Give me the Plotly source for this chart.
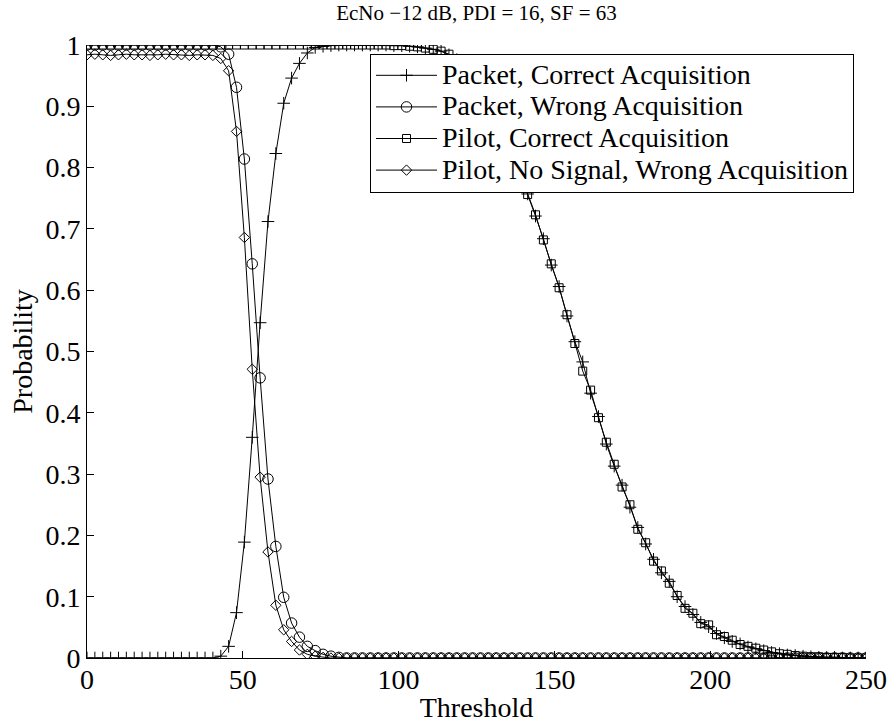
import numpy as np
import plotly.graph_objects as go

# Detection threshold grid (100 points from 0 to 250)
threshold = np.linspace(0, 250, 100)

# Probability of correct acquisition using the packet
packet_correct = (
    [0.0] * 17
    + [0.003, 0.019, 0.074, 0.189, 0.360, 0.547, 0.712, 0.823, 0.905, 0.946,
       0.970, 0.987, 0.996, 0.998, 0.999]
    + [1.0] * 7
    + [0.999, 0.999, 0.998, 0.997, 0.995, 0.993, 0.990, 0.984, 0.976, 0.965,
       0.950, 0.932, 0.910, 0.885, 0.857, 0.825, 0.791, 0.757, 0.721, 0.684,
       0.641, 0.606, 0.558, 0.516, 0.483, 0.432, 0.394, 0.349, 0.313, 0.282,
       0.246, 0.213, 0.186, 0.161, 0.139, 0.125, 0.100, 0.084, 0.071, 0.058,
       0.051, 0.040, 0.033, 0.027, 0.023, 0.018, 0.015, 0.012, 0.009, 0.007,
       0.005, 0.004, 0.003, 0.002, 0.001, 0.001, 0.001, 0.0, 0.0, 0.0,
       0.0]
)

# Probability of wrong acquisition using the packet
packet_wrong = (
    [1.0] * 17
    + [0.997, 0.985, 0.931, 0.814, 0.643, 0.457, 0.292, 0.182, 0.099, 0.057,
       0.034, 0.019, 0.012, 0.006, 0.003, 0.001]
    + [0.0] * 67
)

# Probability of correct acquisition using the pilot
pilot_correct = (
    [1.0] * 39
    + [0.999, 0.999, 0.998, 0.997, 0.995, 0.993, 0.990, 0.985, 0.977, 0.966,
       0.951, 0.933, 0.911, 0.886, 0.858, 0.826, 0.792, 0.756, 0.723, 0.682,
       0.643, 0.604, 0.560, 0.513, 0.468, 0.437, 0.392, 0.352, 0.316, 0.279,
       0.250, 0.210, 0.188, 0.158, 0.142, 0.122, 0.102, 0.081, 0.073, 0.056,
       0.054, 0.038, 0.035, 0.029, 0.022, 0.019, 0.016, 0.013, 0.010, 0.007,
       0.006, 0.004, 0.003, 0.002, 0.002, 0.001, 0.001, 0.001, 0.0, 0.0,
       0.0]
)

# Probability of wrong acquisition with the pilot when no signal is present
pilot_nosignal_wrong = (
    [0.984, 0.985, 0.984, 0.983, 0.984, 0.985, 0.984, 0.984, 0.983, 0.984,
     0.985, 0.984, 0.984, 0.983, 0.984, 0.984, 0.983]
    + [0.978, 0.958, 0.859, 0.686, 0.471, 0.295, 0.173, 0.086, 0.046, 0.027,
       0.013, 0.006, 0.003, 0.001]
    + [0.0] * 69
)

series = [
    ("Packet, Correct Acquisition", packet_correct, "cross-thin", 9),
    ("Packet, Wrong Acquisition", packet_wrong, "circle-open", 10.5),
    ("Pilot, Correct Acquisition", pilot_correct, "square-open", 8),
    ("Pilot, No Signal, Wrong Acquisition", pilot_nosignal_wrong, "diamond-open", 8),
]

FONT = "Liberation Serif"
BIG = 28

fig = go.Figure()
for name, vals, sym, size in series:
    fig.add_trace(go.Scatter(
        x=threshold, y=vals,
        name=f'<span style="font-size:{BIG}px">{name}</span>',
        mode="lines+markers",
        line=dict(color="black", width=1),
        marker=dict(symbol=sym, size=size, color="black",
                    line=dict(color="black", width=1)),
    ))

fig.update_layout(
    width=889, height=723,
    margin=dict(l=87, r=23, t=45, b=65, autoexpand=False),
    paper_bgcolor="white", plot_bgcolor="white",
    font=dict(family=FONT, size=BIG, color="black"),
    title=dict(text="EcNo \u221212 dB, PDI = 16, SF = 63",
               x=0.5, xref="paper", xanchor="center",
               y=1 - 13 / 723, yref="container", yanchor="middle",
               font=dict(family=FONT, size=21, color="black")),
    showlegend=True,
    legend=dict(
        x=(370 - 87) / (866 - 87), y=(658.5 - 54) / 613,
        xanchor="left", yanchor="top",
        bgcolor="white", bordercolor="black", borderwidth=1,
        font=dict(family=FONT, size=22, color="black"),
        itemwidth=61, tracegroupgap=0,
    ),
    xaxis=dict(
        range=[0, 250], tickvals=[0, 50, 100, 150, 200, 250],
        ticks="inside", ticklen=7, tickcolor="black", tickwidth=1,
        showline=True, linecolor="black", linewidth=1,
        showgrid=False, zeroline=False, automargin=False,
        ticklabelstandoff=-4,
        tickfont=dict(family=FONT, size=BIG, color="black"),
        title=dict(text="Threshold", standoff=6,
                   font=dict(family=FONT, size=BIG, color="black")),
    ),
    yaxis=dict(
        range=[0, 1], tickvals=[i / 10 for i in range(11)],
        ticktext=["0", "0.1", "0.2", "0.3", "0.4", "0.5", "0.6", "0.7", "0.8", "0.9", "1"],
        ticks="inside", ticklen=7, tickcolor="black", tickwidth=1,
        showline=True, linecolor="black", linewidth=1,
        showgrid=False, zeroline=False, automargin=False,
        tickfont=dict(family=FONT, size=BIG, color="black"),
        title=dict(text="Probability", standoff=4,
                   font=dict(family=FONT, size=BIG, color="black")),
    ),
)

fig.write_html("out.html")
